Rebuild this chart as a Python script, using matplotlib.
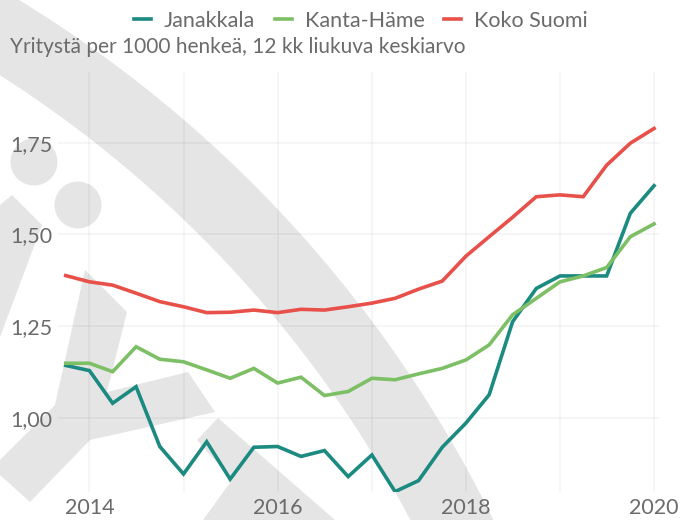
import matplotlib
matplotlib.use("Agg")
import matplotlib.pyplot as plt
import matplotlib.patches as mpatches
import matplotlib.dates as mdates
import matplotlib.ticker as mticker
import numpy as np
import pandas as pd

# ── Data: quarterly points, 12 kk liukuva keskiarvo ─────────────────────────────
QUARTERS = pd.date_range("2013-10-01", periods=26, freq="QS")

JANAKKALA = [1.143, 1.129, 1.040, 1.085, 0.922, 0.847, 0.935, 0.833, 0.920,
             0.922, 0.895, 0.911, 0.840, 0.899, 0.799, 0.829, 0.920, 0.986,
             1.063, 1.262, 1.353, 1.387, 1.387, 1.387, 1.558, 1.633]
KANTA_HAME = [1.149, 1.149, 1.126, 1.194, 1.160, 1.153, 1.131, 1.108, 1.135,
              1.095, 1.111, 1.061, 1.072, 1.108, 1.104, 1.120, 1.135, 1.158,
              1.199, 1.281, 1.326, 1.371, 1.387, 1.410, 1.494, 1.529]
KOKO_SUOMI = [1.388, 1.371, 1.362, 1.340, 1.317, 1.303, 1.287, 1.288, 1.294,
              1.287, 1.296, 1.294, 1.303, 1.313, 1.326, 1.351, 1.373, 1.441,
              1.494, 1.547, 1.603, 1.608, 1.603, 1.689, 1.749, 1.789]

SERIES = ["Janakkala", "Kanta-Häme", "Koko Suomi"]
COLORS = {"Janakkala": "#1b8a80", "Kanta-Häme": "#7dbf65", "Koko Suomi": "#e8504a"}

Y_TICKS = [1.00, 1.25, 1.50, 1.75]
X_LABEL_YEARS = [2014, 2016, 2018, 2020]
SUBTITLE = "Yritystä per 1000 henkeä, 12 kk liukuva keskiarvo"

TEXT_COLOR = "#6b6b6b"
SHAPE_COLOR = "#e5e5e5"

W, H = 694, 520


def px(points):
    """pixel coords (y from top) -> figure fraction"""
    return [(x / W, 1 - y / H) for x, y in points]


def draw_background(fig):
    # big arc band (circle centre far lower-left, off the canvas)
    cx, cy, r_out, r_in = -636, 1074, 1258, 1184
    ang = np.linspace(np.radians(-62), np.radians(-20), 200)
    outer = [(cx + r_out * np.cos(a), cy + r_out * np.sin(a)) for a in ang]
    inner = [(cx + r_in * np.cos(a), cy + r_in * np.sin(a)) for a in ang[::-1]]
    shapes = [
        outer + inner,
        [(0, 205), (12, 195), (42, 225), (0, 337)],
        [(85, 270), (127, 312), (107, 392), (188, 372), (215, 412),
         (90, 440), (30, 502), (0, 475), (0, 460), (55, 405)],
        [(197, 440), (218, 418), (335, 520), (203, 520), (232, 480)],
    ]
    for pts in shapes:
        fig.patches.append(mpatches.Polygon(px(pts), closed=True,
                                            transform=fig.transFigure,
                                            facecolor=SHAPE_COLOR, edgecolor="none",
                                            zorder=-1))
    for ccx, ccy in [(34, 162), (78, 205)]:
        (fx, fy), = px([(ccx, ccy)])
        fig.patches.append(mpatches.Ellipse((fx, fy), 2 * 23.5 / W, 2 * 23.5 / H,
                                            transform=fig.transFigure,
                                            facecolor=SHAPE_COLOR, edgecolor="none",
                                            zorder=-1))


def main():
    plt.rcParams["font.family"] = ["Lato", "DejaVu Sans"]
    fig = plt.figure(figsize=(W / 100, H / 100), dpi=100)
    fig.patch.set_facecolor("white")
    draw_background(fig)

    ax = fig.add_axes([58 / W, 1 - 492 / H, (660 - 58) / W, (492 - 72) / H])
    ax.patch.set_alpha(0)

    values = {"Janakkala": JANAKKALA, "Kanta-Häme": KANTA_HAME, "Koko Suomi": KOKO_SUOMI}
    for name in SERIES:
        ax.plot(QUARTERS, values[name], color=COLORS[name], lw=2.6,
                label=name, solid_joinstyle="miter", zorder=3)

    ax.set_ylim(0.798, 1.943)
    ax.set_xlim(pd.Timestamp("2013-09-01"), pd.Timestamp("2020-01-24"))
    ax.set_yticks(Y_TICKS)
    ax.yaxis.set_major_formatter(mticker.FuncFormatter(
        lambda v, _: f"{v:.2f}".replace(".", ",")))
    ax.xaxis.set_major_locator(mdates.YearLocator(1))
    ax.xaxis.set_major_formatter(mticker.FuncFormatter(
        lambda v, _: str(mdates.num2date(v).year)
        if mdates.num2date(v).year in X_LABEL_YEARS else ""))

    for s in ax.spines.values():
        s.set_visible(False)
    ax.grid(True, color="#000000", alpha=0.045, lw=1.2, zorder=0)
    ax.tick_params(length=0, labelsize=15.5, colors=TEXT_COLOR, pad=4)

    fig.text(10 / W, 1 - 47 / H, SUBTITLE, fontsize=15, color=TEXT_COLOR,
             ha="left", va="center")
    fig.legend(loc="center", bbox_to_anchor=(0.52, 1 - 21 / H), ncol=3,
               frameon=False, fontsize=15.5, labelcolor=TEXT_COLOR,
               handlelength=0.8, handletextpad=0.6, columnspacing=0.9)

    fig.savefig("out.png", dpi=100, facecolor="white")


if __name__ == "__main__":
    main()
